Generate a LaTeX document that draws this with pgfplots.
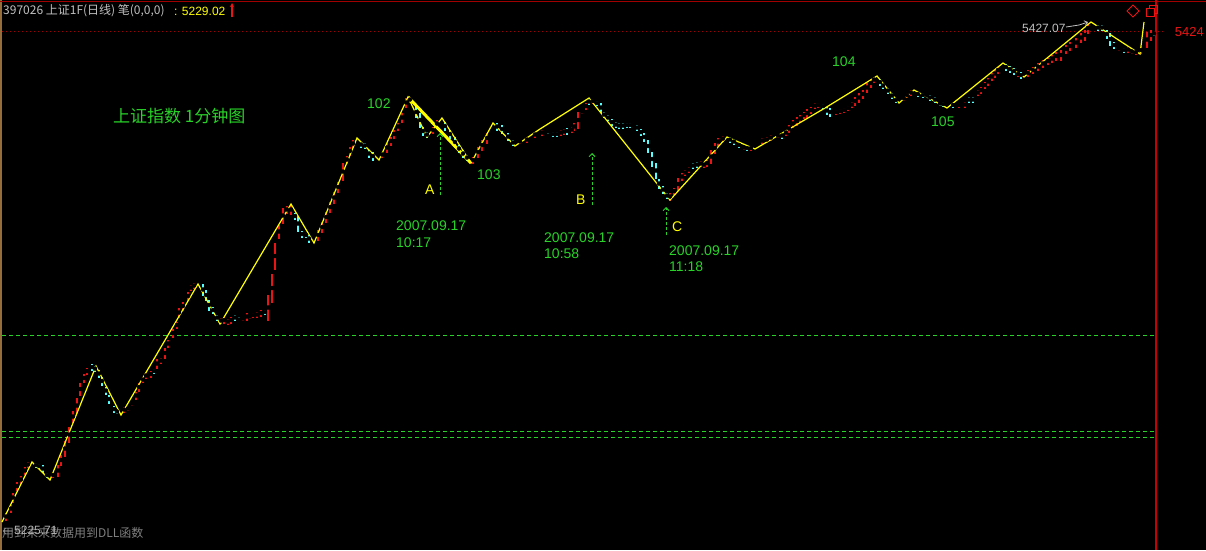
\documentclass[border=0pt]{standalone}
\usepackage{pgfplots}
\pgfplotsset{compat=1.18}
\usepackage{pgfplotstable}
\usepackage{fontspec}
\setmainfont{Liberation Sans}
\newfontfamily\cjk{Noto Sans CJK SC}
\usetikzlibrary{arrows.meta}

\definecolor{kred}{RGB}{235,20,20}
\definecolor{kcyan}{RGB}{84,255,255}
\definecolor{kyel}{RGB}{255,255,0}
\definecolor{kgreen}{RGB}{40,210,40}
\definecolor{kgray}{RGB}{192,192,192}
\definecolor{dgray}{RGB}{128,128,128}
\definecolor{dred}{RGB}{160,0,0}
\definecolor{vred}{RGB}{200,0,0}
\definecolor{kbrown}{RGB}{150,110,60}

% pixel coordinates of the minute bars: x, top, bottom
\pgfplotstableread{
x t b
6 513 520
11 505 512
13 493 502
17 482 490
21 476 483
25 467 474
28 462 467
53 473 477
58 465 476
61 455 465
65 441 456
69 427 442
73 411 422
77 398 413
80 383 395
84 374 382
87 368 374
124 407 412
128 407 410
132 402 405
136 392 399
139 383 391
143 377 382
146 373 378
151 371 377
157 359 368
161 358 363
165 348 358
168 340 347
173 329 337
177 322 328
179 308 317
183 302 310
188 292 300
191 285 290
194 283 288
221 318 323
224 317 323
228 319 324
231 317 323
243 317 320
247 313 320
250 315 318
253 313 317
257 312 317
261 310 316
268 295 320
272 274 302
275 243 269
279 225 238
283 208 223
287 206 213
291 205 214
318 230 240
322 222 232
326 212 222
330 202 212
334 192 203
338 182 192
343 163 180
347 156 163
350 147 155
353 140 147
382 152 157
387 143 152
391 137 145
394 130 138
398 123 130
402 113 122
406 98 107
410 97 102
433 127 133
437 120 127
473 157 163
478 147 157
482 140 150
487 133 143
520 140 143
527 137 142
535 132 137
542 130 135
561 130 135
564 129 134
572 127 132
574 123 130
578 112 128
582 110 113
586 103 109
593 99 103
633 125 127
670 193 200
674 188 194
678 178 190
682 173 180
685 170 175
689 167 172
701 161 166
704 162 167
707 160 166
711 150 163
715 143 153
718 138 145
723 136 141
744 146 149
751 146 150
762 138 143
767 137 142
771 135 140
778 134 137
786 130 135
789 125 132
793 120 127
797 117 125
800 115 122
804 112 118
807 109 117
811 107 113
815 103 108
818 103 107
836 110 114
840 109 113
844 108 112
848 106 110
852 102 107
855 97 105
859 93 102
863 90 98
867 83 92
871 79 87
874 77 82
904 97 100
907 93 97
911 90 95
959 103 107
965 102 107
978 90 95
981 87 93
985 82 88
988 78 85
992 73 80
995 70 77
998 67 73
1018 72 76
1028 70 76
1033 67 73
1038 63 70
1043 60 67
1048 58 64
1052 55 62
1056 52 60
1061 50 60
1066 45 53
1070 42 50
1076 38 47
1081 33 42
1085 30 40
1088 23 33
1119 47 50
1128 47 52
1132 50 53
1136 50 54
1141 47 53
1147 32 47
1151 30 40
}\redbars

\pgfplotstableread{
x t b
36 463 467
39 464 468
43 465 472
47 473 477
92 364 370
95 366 371
99 370 377
102 377 385
106 387 394
109 395 403
114 406 412
117 410 413
154 369 373
203 284 295
206 290 300
209 300 310
213 307 313
217 315 320
235 315 320
239 314 317
265 310 314
295 213 219
298 216 231
302 231 237
306 233 237
309 235 242
361 142 147
365 143 148
369 150 157
373 152 160
416 107 117
420 113 127
423 127 135
427 132 137
445 122 130
450 130 138
455 137 147
459 145 152
463 150 157
467 155 160
497 123 130
502 125 133
508 133 140
513 140 145
548 130 133
553 132 136
557 132 136
567 128 134
589 99 104
597 101 105
601 103 112
604 112 117
608 115 120
612 119 125
616 122 127
619 123 128
623 123 128
627 123 127
630 123 127
637 125 130
641 129 135
644 133 141
648 140 152
652 152 166
656 163 178
659 179 188
663 186 193
667 193 198
693 163 168
697 162 167
730 137 142
734 139 144
739 143 147
747 146 150
782 133 138
823 104 108
827 107 114
830 108 116
880 79 85
883 83 88
888 88 93
892 93 98
896 98 102
918 92 96
923 93 97
927 94 97
930 95 100
935 97 102
940 102 105
943 102 106
953 103 107
969 97 102
973 97 102
1006 64 70
1010 66 72
1014 68 74
1021 72 78
1098 25 30
1102 25 30
1107 30 38
1110 33 45
1114 42 48
1124 48 52
1154 32 35
}\cyanbars

\begin{document}
\begin{tikzpicture}
\begin{axis}[
    scale only axis, width=1206pt, height=550pt,
    xmin=0, xmax=1206, ymin=0, ymax=550,
    y dir=reverse, hide axis, clip=true,
  ]
  \fill[black] (axis cs:0,0) rectangle (axis cs:1206,550);
  % frame lines
  \draw[kbrown, line width=1.5pt] (axis cs:0.75,0) -- (axis cs:0.75,550);
  \draw[dred, line width=1.2pt] (axis cs:0,1.5) -- (axis cs:1206,1.5);
  \draw[vred, line width=1.6pt] (axis cs:1156,0) -- (axis cs:1156,550);
  \draw[dred, line width=1pt, dash pattern=on 1pt off 3pt] (axis cs:2,31) -- (axis cs:1166,31);
  \draw[kgreen, line width=1pt, dash pattern=on 4pt off 3pt] (axis cs:2,335) -- (axis cs:1156,335);
  \draw[kgreen, line width=1pt, dash pattern=on 4pt off 3pt] (axis cs:2,431) -- (axis cs:1156,431);
  \draw[kgreen, line width=1pt, dash pattern=on 4pt off 3pt] (axis cs:2,437) -- (axis cs:1156,437);

  % minute bars
  \addplot[only marks, mark=none, error bars/.cd, y dir=both, y explicit, error mark=none,
    error bar style={draw=kred, line width=2pt}]
    table[x=x, y expr={(\thisrow{t}+\thisrow{b})/2}, y error expr={(\thisrow{b}-\thisrow{t})/2+0.5}] {\redbars};
  \addplot[only marks, mark=none, error bars/.cd, y dir=both, y explicit, error mark=none,
    error bar style={draw=kcyan, line width=2pt}]
    table[x=x, y expr={(\thisrow{t}+\thisrow{b})/2}, y error expr={(\thisrow{b}-\thisrow{t})/2+0.5}] {\cyanbars};

  % stroke line
  \addplot[kyel, line width=1.2pt, mark=none] coordinates {
    (2,522) (32,462) (50,480) (96,366) (121,415) (198,284) (220,324) (291,204)
    (314,243) (357,138) (379,160) (408,97) (427,137) (442,118) (471,163)
    (493,123) (515,146) (540,129) (589,98) (670,200) (727,137) (755,149)
    (825,108) (877,76) (899,103) (914,90) (947,108) (1003,63) (1024,77)
    (1091,22) (1140,54) (1144,22)
  };
  \addplot[kyel, line width=3pt, mark=none] coordinates {(408,97) (471,163)};

  % header
  \node[anchor=west, inner sep=0pt, text=kgray, font=\cjk\fontsize{12}{14}\selectfont] at (axis cs:3,11) {397026 上证1F(日线) 笔(0,0,0)};
  \node[anchor=west, inner sep=0pt, text=kyel, font=\fontsize{12}{14}\selectfont] at (axis cs:174,11) {: 5229.02};
  \draw[kred, line width=1.2pt, -{Stealth[length=4pt,width=4pt]}] (axis cs:232,17) -- (axis cs:232,3);
  \node[anchor=east, inner sep=0pt, text=kred, font=\fontsize{13}{15}\selectfont] at (axis cs:1204,32) {5424};
  \draw[kred, line width=1pt] (axis cs:1133,5) -- (axis cs:1139,11) -- (axis cs:1133,17) -- (axis cs:1127,11) -- cycle;
  \draw[kred, line width=1pt] (axis cs:1146,8) rectangle (axis cs:1154,16);
  \draw[kred, line width=1pt] (axis cs:1149,5) -- (axis cs:1157,5) -- (axis cs:1157,13) -- (axis cs:1154,13);
  \draw[kred, line width=1pt] (axis cs:1149,5) -- (axis cs:1149,8);
  \node[anchor=west, inner sep=0pt, text=kgray, font=\fontsize{12}{14}\selectfont] at (axis cs:1022,28) {5427.07};
  \draw[kgray, line width=0.8pt, -{Straight Barb[length=3pt,width=5pt]}] (axis cs:1066,27) -- (axis cs:1079,25) -- (axis cs:1088,22);

  % footer
  \node[anchor=west, inner sep=0pt, text=dgray, font=\cjk\fontsize{12}{14}\selectfont] at (axis cs:2,533) {用到未来数据用到DLL函数};
  \node[anchor=west, inner sep=0pt, text=kgray!80!dgray, font=\fontsize{12}{14}\selectfont] at (axis cs:2,530) {$\leftarrow$5225.71};

  % annotations
  \node[anchor=west, inner sep=0pt, text=kgreen, font=\cjk\fontsize{17}{19}\selectfont] at (axis cs:113,116) {上证指数 1分钟图};
  \node[anchor=west, inner sep=0pt, text=kgreen, font=\fontsize{14}{16}\selectfont] at (axis cs:367,104) {102};
  \node[anchor=west, inner sep=0pt, text=kgreen, font=\fontsize{14}{16}\selectfont] at (axis cs:477,175) {103};
  \node[anchor=west, inner sep=0pt, text=kgreen, font=\fontsize{14}{16}\selectfont] at (axis cs:832,62) {104};
  \node[anchor=west, inner sep=0pt, text=kgreen, font=\fontsize{14}{16}\selectfont] at (axis cs:931,122) {105};

  \node[anchor=west, inner sep=0pt, text=kyel, font=\fontsize{14}{16}\selectfont] at (axis cs:425,190) {A};
  \node[anchor=west, inner sep=0pt, text=kyel, font=\fontsize{14}{16}\selectfont] at (axis cs:576,200) {B};
  \node[anchor=west, inner sep=0pt, text=kyel, font=\fontsize{14}{16}\selectfont] at (axis cs:672,227) {C};

  \draw[kgreen, line width=1pt, dash pattern=on 3pt off 2pt, -{Straight Barb[length=3pt,width=6pt]}] (axis cs:440,195) -- (axis cs:440,133);
  \draw[kgreen, line width=1pt, dash pattern=on 3pt off 2pt, -{Straight Barb[length=3pt,width=6pt]}] (axis cs:592,205) -- (axis cs:592,153);
  \draw[kgreen, line width=1pt, dash pattern=on 3pt off 2pt, -{Straight Barb[length=3pt,width=6pt]}] (axis cs:666,235) -- (axis cs:666,207);

  \node[anchor=west, inner sep=0pt, text=kgreen, font=\fontsize{14}{16}\selectfont] at (axis cs:396,226) {2007.09.17};
  \node[anchor=west, inner sep=0pt, text=kgreen, font=\fontsize{14}{16}\selectfont] at (axis cs:396,243) {10:17};
  \node[anchor=west, inner sep=0pt, text=kgreen, font=\fontsize{14}{16}\selectfont] at (axis cs:544,238) {2007.09.17};
  \node[anchor=west, inner sep=0pt, text=kgreen, font=\fontsize{14}{16}\selectfont] at (axis cs:544,254) {10:58};
  \node[anchor=west, inner sep=0pt, text=kgreen, font=\fontsize{14}{16}\selectfont] at (axis cs:669,251) {2007.09.17};
  \node[anchor=west, inner sep=0pt, text=kgreen, font=\fontsize{14}{16}\selectfont] at (axis cs:669,267) {11:18};
\end{axis}
\end{tikzpicture}
\end{document}
